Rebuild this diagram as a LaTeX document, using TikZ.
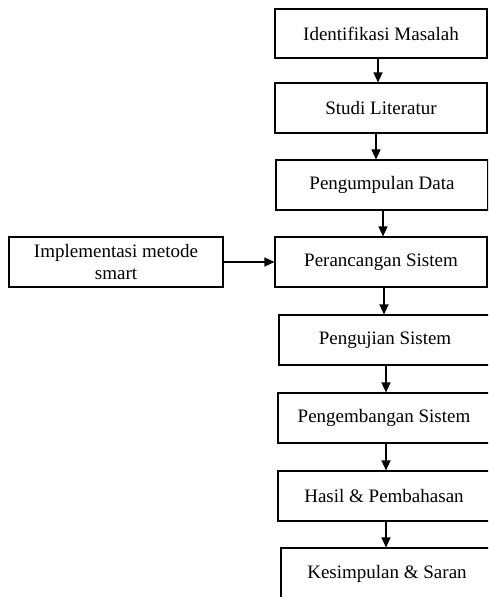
\documentclass[tikz,border=0pt]{standalone}
\usepackage{fontspec}
\setmainfont{Liberation Serif}
\usetikzlibrary{arrows.meta}
\begin{document}
\begin{tikzpicture}[x=1pt,y=-1pt,
  stage/.style={draw, line width=1.1pt, inner sep=0pt, minimum width=212pt,
    font=\fontsize{19}{22}\selectfont, align=center},
  flow/.style={line width=1.1pt, -{Triangle[length=10pt,width=9pt]}}]
\useasboundingbox (0,0) rectangle (488,597);
\begin{scope}
\clip (0,0) rectangle (488,597);
% main column of stages
\node[stage, minimum height=49pt] (b1) at (381,33.5) {Identifikasi Masalah};
\node[stage, minimum height=50pt] (b2) at (381,108) {Studi Literatur};
\node[stage, minimum height=50pt] (b3) at (382,185) {Pengumpulan Data};
\node[stage, minimum height=50pt] (b4) at (381,262) {Perancangan Sistem};
\node[stage, minimum height=50pt] (b5) at (385,340) {Pengujian Sistem};
\node[stage, minimum height=50pt] (b6) at (384,418) {Pengembangan Sistem};
\node[stage, minimum height=50pt] (b7) at (384,496) {Hasil \& Pembahasan};
\node[stage, minimum height=52pt] (b8) at (387,574) {Kesimpulan \& Saran};
% side input
\node[stage, minimum width=214pt, minimum height=50pt] (side) at (116,262)
  {Implementasi metode\\smart};
\end{scope}
% connectors
\draw[flow] ([xshift=-3pt]b1.south) -- ([xshift=-3pt]b2.north);
\draw[flow] ([xshift=-5pt]b2.south) -- ([xshift=-6pt]b3.north);
\draw[flow] ([xshift=1pt]b3.south) -- ([xshift=2pt]b4.north);
\draw[flow] ([xshift=3pt]b4.south) -- ([xshift=-1pt]b5.north);
\draw[flow] ([xshift=1pt]b5.south) -- ([xshift=2pt]b6.north);
\draw[flow] ([xshift=2pt]b6.south) -- ([xshift=2pt]b7.north);
\draw[flow] ([xshift=2pt]b7.south) -- ([xshift=-1pt]b8.north);
\draw[flow] (side.east) -- (b4.west);
\end{tikzpicture}
\end{document}
